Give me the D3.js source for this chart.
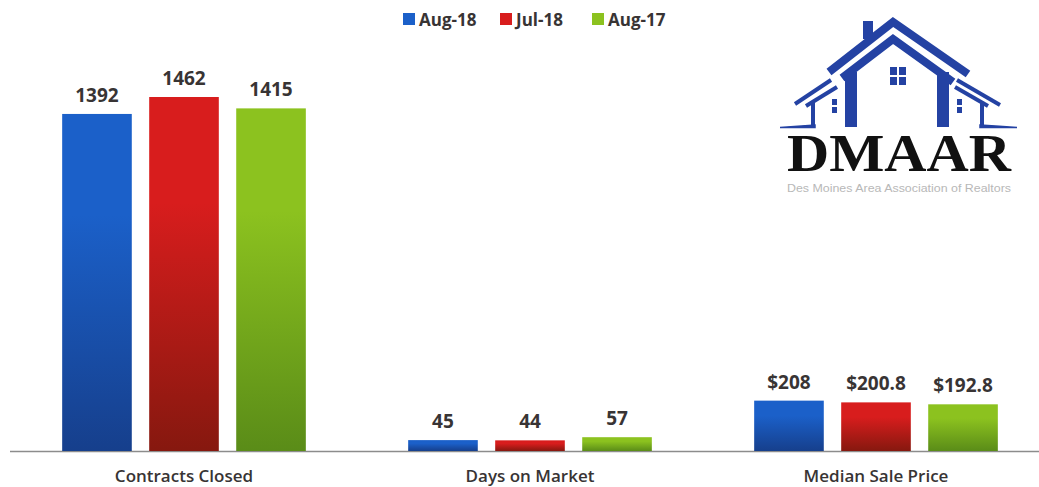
<!DOCTYPE html>
<html>
<head>
<meta charset="utf-8">
<script src="https://cdn.jsdelivr.net/npm/d3@7"></script>
<style>
  html, body { margin: 0; padding: 0; background: #fff; }
  svg { display: block; }
</style>
</head>
<body>
<svg id="chart" width="1039" height="487"></svg>
<script>
// ---------- data ----------
const categories = ["Contracts Closed", "Days on Market", "Median Sale Price"];
const seriesNames = ["Aug-18", "Jul-18", "Aug-17"];
const aug18 = [1392, 45, 208];
const jul18 = [1462, 44, 200.8];
const aug17 = [1415, 57, 192.8];
const valuePrefix = ["", "", "$"];
const seriesValues = [aug18, jul18, aug17];

// ---------- styles ----------
const colorsTop = ["#1b60c9", "#d81d1d", "#8cc21f"];
const colorsBottom = ["#163f8c", "#86180f", "#5a8c18"];
const textColor = "#383434";
const font = "'Open Sans', sans-serif";

const svg = d3.select("#chart");

const baseY = 451;
const y = d3.scaleLinear().domain([0, 1462]).range([baseY, baseY - 354]);

const x0 = d3.scaleBand().domain(categories).range([11, 1049]).paddingInner(0).paddingOuter(0);
const x1 = d3.scaleBand().domain(seriesNames).range([0, x0.bandwidth()]).paddingInner(0.2).paddingOuter(0.588);

// gradients
const defs = svg.append("defs");
seriesNames.forEach((s, i) => {
  const g = defs.append("linearGradient").attr("id", "grad" + i)
    .attr("x1", 0).attr("y1", 0).attr("x2", 0).attr("y2", 1);
  g.append("stop").attr("offset", "0%").attr("stop-color", colorsTop[i]);
  g.append("stop").attr("offset", "30%").attr("stop-color", colorsTop[i]);
  g.append("stop").attr("offset", "100%").attr("stop-color", colorsBottom[i]);
});

// table
const rows = [];
categories.forEach((c, ci) => {
  seriesNames.forEach((s, si) => {
    rows.push({ cat: c, ci, series: s, si, value: seriesValues[si][ci] });
  });
});

// baseline axis
const xAxis = d3.axisBottom(x0).tickSize(0).tickFormat("");
const axisG = svg.append("g").attr("transform", `translate(0,${baseY})`).call(xAxis);
axisG.select(".domain").remove();
svg.append("line").attr("x1", 10).attr("x2", 1039).attr("y1", baseY + 0.5).attr("y2", baseY + 0.5)
  .attr("stroke", "#8c8c8c").attr("stroke-width", 1.5);

// bars
const groups = svg.append("g").selectAll("g").data(rows).join("g");
groups.append("rect")
  .attr("x", d => x0(d.cat) + x1(d.series))
  .attr("width", x1.bandwidth())
  .attr("y", d => y(d.value))
  .attr("height", d => baseY - y(d.value))
  .attr("fill", d => `url(#grad${d.si})`);

// value labels
groups.append("text")
  .attr("x", d => x0(d.cat) + x1(d.series) + x1.bandwidth() / 2)
  .attr("y", d => y(d.value) - 12)
  .attr("text-anchor", "middle")
  .attr("font-family", font).attr("font-weight", 700).attr("font-size", 19)
  .attr("fill", textColor)
  .text(d => valuePrefix[d.ci] + d.value);

// category labels
svg.append("g").selectAll("text").data(categories).join("text")
  .attr("x", d => x0(d) + x0.bandwidth() / 2)
  .attr("y", 482)
  .attr("text-anchor", "middle")
  .attr("font-family", font).attr("font-weight", 600).attr("font-size", 17)
  .attr("fill", textColor)
  .text(d => d);

// legend
const legendX = [403, 500, 592];
const lg = svg.append("g").selectAll("g").data(seriesNames).join("g")
  .attr("transform", (d, i) => `translate(${legendX[i]},0)`);
lg.append("rect").attr("x", 0).attr("y", 13).attr("width", 12).attr("height", 12)
  .attr("fill", (d, i) => colorsTop[i]);
lg.append("text").attr("x", 16).attr("y", 26)
  .attr("font-family", font).attr("font-weight", 700).attr("font-size", 17)
  .attr("fill", textColor).text(d => d);

// ---------- logo ----------
const logo = svg.append("g");
const blue = "#2442a3";
const strokeLine = (pts, w) => logo.append("polyline")
  .attr("points", pts.map(p => p.join(",")).join(" "))
  .attr("fill", "none").attr("stroke", blue).attr("stroke-width", w)
  .attr("stroke-linejoin", "miter").attr("stroke-linecap", "butt");
// chimney
logo.append("rect").attr("x", 863).attr("y", 21).attr("width", 10).attr("height", 18).attr("fill", blue);
// main outer roof
strokeLine([[829, 72], [893, 22], [968, 74]], 8);
// main inner roof
strokeLine([[842, 78], [893, 39], [953, 82]], 8);
// main walls
logo.append("rect").attr("x", 845).attr("y", 72).attr("width", 12).attr("height", 55).attr("fill", blue);
logo.append("rect").attr("x", 937).attr("y", 72).attr("width", 12).attr("height", 55).attr("fill", blue);
// left side roofs
strokeLine([[831, 80], [795, 104]], 4);
strokeLine([[837, 87], [806, 106]], 4);
logo.append("rect").attr("x", 811).attr("y", 102).attr("width", 4).attr("height", 24).attr("fill", blue);
// right side roofs
strokeLine([[957, 80], [1000, 105]], 4);
strokeLine([[955, 87], [988, 106]], 4);
logo.append("rect").attr("x", 980).attr("y", 102).attr("width", 4).attr("height", 24).attr("fill", blue);
// base swooshes
logo.append("path").attr("d", "M780,127.5 L815,127.5 L815,125 Q800,126 780,127.5 Z")
  .attr("fill", blue).attr("stroke", blue).attr("stroke-width", 1.5);
logo.append("path").attr("d", "M980,127.5 L1017,127.5 Q1000,126 980,125 Z")
  .attr("fill", blue).attr("stroke", blue).attr("stroke-width", 1.5);
// windows
[[890, 67], [899, 67], [890, 77], [899, 77]].forEach(p =>
  logo.append("rect").attr("x", p[0]).attr("y", p[1]).attr("width", 7).attr("height", 8).attr("fill", blue));
[[832, 99], [832, 107], [957, 99], [957, 107]].forEach(p =>
  logo.append("rect").attr("x", p[0]).attr("y", p[1]).attr("width", 5).attr("height", 6).attr("fill", blue));
// text
logo.append("text").attr("x", 787).attr("y", 171)
  .attr("font-family", "'Liberation Serif', serif").attr("font-weight", 700).attr("font-size", 52)
  .attr("textLength", 224).attr("lengthAdjust", "spacingAndGlyphs")
  .attr("fill", "#111").text("DMAAR");
logo.append("text").attr("x", 787).attr("y", 192)
  .attr("font-family", "'Liberation Sans', sans-serif").attr("font-size", 11)
  .attr("textLength", 224).attr("lengthAdjust", "spacingAndGlyphs")
  .attr("fill", "#b8b8b8").text("Des Moines Area Association of Realtors");
</script>
</body>
</html>
